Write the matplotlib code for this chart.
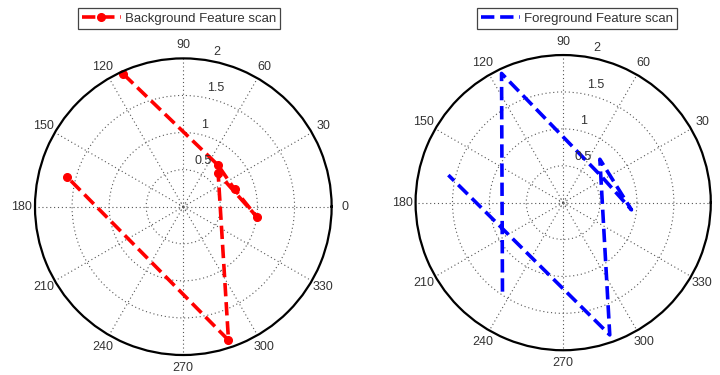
import numpy as np
import matplotlib
matplotlib.use("Agg")
import matplotlib.pyplot as plt

plt.rcParams["font.family"] = ["Liberation Sans", "DejaVu Sans"]
plt.rcParams["font.size"] = 9

# values (angles in degrees, radius in plot units)
bg_theta = [114.3, 50.0, 18.6, -7.8, 43.7, -71.3, 165.6]
bg_rho = [1.96, 0.73, 0.73, 1.00, 0.65, 1.90, 1.62]

fg_theta = [235.7, 115.5, 34.0, -6.0, 49.8, -70.6, 166.5]
fg_rho = [1.46, 1.94, 0.63, 0.93, 0.77, 1.90, 1.60]

angle_ticks = list(range(0, 360, 30))
rho_ticks = [0.5, 1, 1.5, 2]
rmax = 2

txt_col = "#333333"


def style_polar(ax, skip_zero=False):
    ax.set_ylim(0, rmax)
    labels = [str(a) for a in angle_ticks]
    if skip_zero:
        labels[0] = ""  # falls outside the figure in the original
    ax.set_thetagrids(angle_ticks, labels, color=txt_col, fontsize=9)
    ax.set_rticks(rho_ticks[:-1])
    ax.set_yticklabels([])
    ax.tick_params(axis="x", pad=-1)
    ax.grid(True, linestyle=(0, (1, 2.5)), color="#555555", linewidth=0.8)
    ax.spines["polar"].set_linewidth(1.6)
    ax.spines["polar"].set_color("black")
    # small circle round the origin, like MATLAB polar
    t = np.linspace(0, 2 * np.pi, 60)
    ax.plot(t, np.full_like(t, 0.05), linestyle=(0, (1, 2)), color="#555555", lw=0.6)
    # radius labels along ~80 deg
    for r in rho_ticks:
        x = r * np.cos(np.radians(80)) + 0.06
        y = r * np.sin(np.radians(80)) + 0.12
        ax.text(np.arctan2(y, x), np.hypot(x, y), f"{r:g}", ha="left", va="center",
                color=txt_col, fontsize=9)


fig = plt.figure(figsize=(7.2, 3.75), dpi=100)
ax1 = fig.add_axes([0.0486, 0.0533, 0.412, 0.791], projection="polar")
ax2 = fig.add_axes([0.5772, 0.0656, 0.410, 0.788], projection="polar")

style_polar(ax1)
style_polar(ax2, skip_zero=True)

ax1.plot(np.radians(bg_theta), bg_rho, color="#ff0000", linestyle="--", lw=2.6,
         marker="o", markersize=5.5, label="Background Feature scan", clip_on=False)
ax2.plot(np.radians(fg_theta), fg_rho, color="#0000ff", linestyle="--", lw=2.6,
         label="Foreground Feature scan", clip_on=False)

for ax, xc in [(ax1, 179 / 720), (ax2, 577 / 720)]:
    leg = ax.legend(loc="center", bbox_to_anchor=(xc, 1 - 18.5 / 375),
                    bbox_transform=fig.transFigure, fancybox=False, framealpha=1,
                    edgecolor="#444444", fontsize=9.5, handlelength=3.0,
                    borderpad=0.3, handletextpad=0.3, borderaxespad=0)
    leg.get_frame().set_linewidth(0.9)
    for t in leg.get_texts():
        t.set_color(txt_col)

fig.savefig("out.png", dpi=100, facecolor="white")
